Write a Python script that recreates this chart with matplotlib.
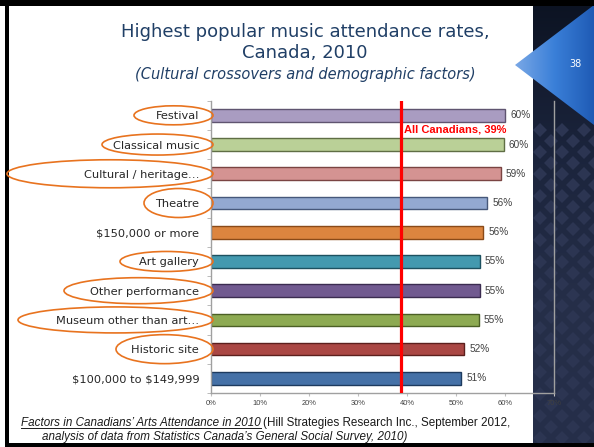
import numpy as np
import matplotlib
matplotlib.use("Agg")
import matplotlib.pyplot as plt
from matplotlib.patches import Ellipse, Polygon, Rectangle
from matplotlib.transforms import IdentityTransform
from matplotlib.lines import Line2D

# attendance rates by crossover / demographic group (top to bottom)
categories = ["Festival", "Classical music", "Cultural / heritage\u2026", "Theatre",
              "\\$150,000 or more", "Art gallery", "Other performance",
              "Museum other than art\u2026", "Historic site", "\\$100,000 to \\$149,999"]
rates = [60.1, 59.7, 59.1, 56.4, 55.6, 54.8, 54.8, 54.6, 51.7, 51.1]
all_canadians = 38.7
xticks = [0, 10, 20, 30, 40, 50, 60, 70]

bar_colors = ["#a99cc1", "#bad097", "#d49392", "#93a9d1", "#dc853f",
              "#4399af", "#715a90", "#8daa52", "#aa4744", "#4571a7"]
edge_colors = ["#5f5470", "#5f6e45", "#7a4442", "#46587a", "#8a4a18",
               "#1d5160", "#3b2c50", "#4b5f25", "#5c1f1d", "#1d3a5e"]

# hand-drawn highlight ovals: (category, left edge px, height px)
highlights = [("Festival", 134, 19), ("Classical music", 102, 21),
              ("Cultural / heritage\u2026", 7, 28), ("Theatre", 144, 29),
              ("Art gallery", 120, 20), ("Other performance", 64, 26),
              ("Museum other than art\u2026", 18, 26), ("Historic site", 116, 29)]

W, H = 594, 447
fig = plt.figure(figsize=(W / 100, H / 100), dpi=100)
fig.patch.set_facecolor("white")

# slide background in pixel coordinates
bg = fig.add_axes([0, 0, 1, 1], zorder=0)
bg.set_xlim(0, W)
bg.set_ylim(H, 0)
bg.axis("off")

# dark side panel with a vertical gradient
grad = np.linspace(0, 1, 256).reshape(-1, 1)
panel_cmap = matplotlib.colors.LinearSegmentedColormap.from_list(
    "panel", ["#0c1322", "#1b243c", "#252e48", "#262f4a"])
bg.imshow(grad, cmap=panel_cmap, extent=[533, W, H, 0], aspect="auto", zorder=1)
# faint diamond texture
for cx in np.arange(540, W + 20, 22):
    for cy in np.arange(130, H, 22):
        for off in (0, 11):
            d = Polygon([(cx + off, cy + off - 7), (cx + off + 7, cy + off),
                         (cx + off, cy + off + 7), (cx + off - 7, cy + off)],
                        closed=True, facecolor="#2c3552", edgecolor="none", zorder=2)
            bg.add_patch(d)

# blue pointer triangle with horizontal gradient
tri = Polygon([(515, 65), (W, 5), (W, 125)], closed=True, facecolor="none",
              edgecolor="none", zorder=4)
bg.add_patch(tri)
hgrad = np.linspace(0, 1, 256).reshape(1, -1)
tri_cmap = matplotlib.colors.LinearSegmentedColormap.from_list(
    "tri", ["#7aa8e6", "#3a7fd8", "#1f5bb5"])
im = bg.imshow(hgrad, cmap=tri_cmap, extent=[515, W, 125, 5], aspect="auto", zorder=3)
im.set_clip_path(tri)
bg.text(575, 64, "38", color="white", fontsize=7, ha="center", va="center", zorder=5)

# slide border
bg.add_patch(Rectangle((0, 0), W, 6, facecolor="black", edgecolor="none", zorder=6))
bg.add_patch(Rectangle((5, 0), 3.5, H, facecolor="black", edgecolor="none", zorder=6))
bg.add_patch(Rectangle((5, 443), W, 4, facecolor="black", edgecolor="none", zorder=6))

# titles
title_color = "#203f66"
bg.text(305, 32, "Highest popular music attendance rates,", color=title_color,
        fontsize=13, ha="center", va="center", zorder=5)
bg.text(305, 53, "Canada, 2010", color=title_color, fontsize=13,
        ha="center", va="center", zorder=5)
bg.text(305, 74, "(Cultural crossovers and demographic factors)", color=title_color,
        fontsize=10.5, style="italic", ha="center", va="center", zorder=5)

# bar chart
ax = fig.add_axes([211 / W, 1 - 393 / H, (554 - 211) / W, (393 - 100.7) / H], zorder=2)
ax.set_facecolor("none")
y = np.arange(len(categories))
ax.barh(y, rates, height=0.43, color=bar_colors, edgecolor=edge_colors,
        linewidth=1.0, zorder=2)
ax.set_ylim(len(categories) - 0.5, -0.5)
ax.set_xlim(0, 70)
ax.axvline(all_canadians, color="#ff0000", linewidth=2.3, zorder=3)
ax.text(all_canadians + 0.7, 0.5, f"All Canadians, {all_canadians:.0f}%", color="#ff0000",
        fontsize=8, fontweight="bold", family="Liberation Sans", va="center", ha="left",
        zorder=4)
for yi, r in zip(y, rates):
    ax.text(r + 1.0, yi, f"{r:.0f}%", fontsize=7.2, family="Liberation Sans",
            color="#404040", va="center", ha="left")

ax.set_yticks(y)
ax.set_yticklabels(categories, fontsize=8.2, color="#262626")
ax.tick_params(axis="y", length=0, pad=8.5)
ax.set_yticks(np.arange(-0.5, len(categories), 1), minor=True)
ax.tick_params(axis="y", which="minor", length=3, color="#b0b0b0")
ax.set_xticks(xticks)
ax.set_xticklabels([f"{t}%" for t in xticks], fontsize=5.4, family="Liberation Sans",
                   color="#404040")
ax.tick_params(axis="x", length=2, color="#bfbfbf", pad=3)
for side in ("left", "bottom", "right"):
    ax.spines[side].set_color("#a0a0a0")
    ax.spines[side].set_linewidth(1.0)
ax.spines["top"].set_visible(False)

# orange ovals around the cultural crossover labels
fig.canvas.draw()
right_px = 213
for name, left_px, h_px in highlights:
    yi = categories.index(name)
    cy = ax.transData.transform((0, yi))[1]
    w = right_px - left_px
    fig.add_artist(Ellipse((left_px + w / 2, cy), w, h_px, facecolor="none",
                           edgecolor="#e8731f", linewidth=1.2,
                           transform=IdentityTransform(), zorder=10))

# source note with underlined report title
renderer = fig.canvas.get_renderer()
note_size = 8.4
t1 = bg.text(21, 426, "Factors in Canadians\u2019 Arts Attendance in 2010", fontsize=note_size,
             style="italic", family="Liberation Sans", color="#1a1a1a",
             va="baseline", ha="left", zorder=5)
bb = t1.get_window_extent(renderer)
x_end = bg.transData.inverted().transform((bb.x1, bb.y0))[0]
bg.add_line(Line2D([21, x_end], [428, 428], color="#1a1a1a", linewidth=0.7, zorder=5))
bg.text(x_end + 2, 426, "(Hill Strategies Research Inc., September 2012,", fontsize=note_size,
        family="Liberation Sans", color="#1a1a1a", va="baseline", ha="left", zorder=5)
bg.text(42, 440, "analysis of data from Statistics Canada\u2019s General Social Survey, 2010)",
        fontsize=note_size, style="italic", family="Liberation Sans", color="#1a1a1a",
        va="baseline", ha="left", zorder=5)

fig.savefig("out.png", dpi=100, facecolor=fig.get_facecolor())
